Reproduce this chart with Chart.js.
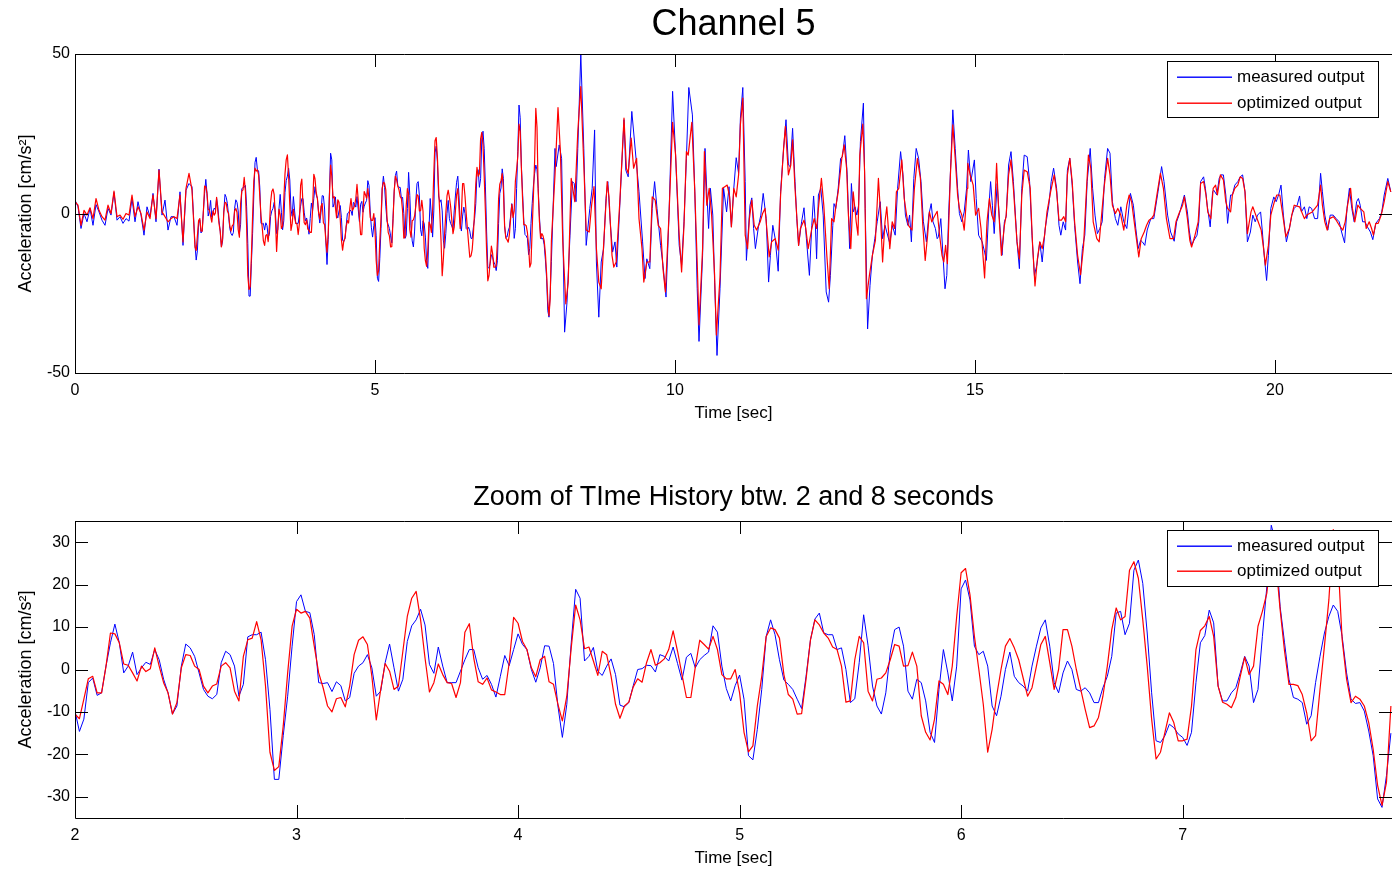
<!DOCTYPE html>
<html>
<head>
<meta charset="utf-8">
<title>Channel 5</title>
<script src="https://cdn.jsdelivr.net/npm/chart.js@4.4.1/dist/chart.umd.min.js"></script>
<style>
  html, body { margin: 0; padding: 0; background: #fff; }
  #wrap { position: relative; width: 1392px; height: 872px; overflow: hidden; }
  canvas { position: absolute; left: 0; }
  #full { top: 0; }
  #zoom { top: 440px; }
</style>
</head>
<body>
<div id="wrap">
  <canvas id="full" width="1392" height="430"></canvas>
  <canvas id="zoom" width="1392" height="432"></canvas>
</div>
<script>
// tick labels
const fullXTicks = [0, 5, 10, 15, 20];
const fullYTicks = [-50, 0, 50];
const zoomXTicks = [2, 3, 4, 5, 6, 7];
const zoomYTicks = [-30, -20, -10, 0, 10, 20, 30];

const seriesNames = ['measured output', 'optimized output'];
const seriesColors = ['#0000ff', '#ff0000'];

// 0 - 1.95 s, one value every 0.05 s
const earlyStep = 0.05;
const earlyMeasured = [
  4.2, 2.1, -4.7, 0.0, -2.6, 1.6, -3.7, 2.8, 0.5, -2.1,
  -3.7, 1.6, -0.5, 6.6, -2.1, -1.0, -3.1, -1.6, -2.4, 4.7,
  -2.6, 3.7, -0.5, -6.8, 2.1, -1.0, 6.3, -2.6, 13.9, -0.5,
  4.2, -5.2, -1.0, -1.0, -3.7, 6.8, -10.0, 7.3, 9.4, 8.4
];
const earlyOptimized = [
  3.7, 2.6, -3.7, 1.0, -0.5, 1.8, -1.6, 4.7, 1.0, -1.0,
  -2.1, 2.6, 0.0, 7.0, -1.0, -0.5, -1.8, 0.0, -0.5, 5.8,
  -1.0, 2.1, 0.0, -5.2, 0.5, -1.6, 5.8, -1.6, 13.6, 0.5,
  -1.0, -2.6, -1.6, -1.0, -1.6, 5.8, -8.9, 7.9, 12.6, 7.3
];

// 2.00 - 7.94 s, one value every 0.02 s
const zoomStart = 2;
const zoomStep = 0.02;
const zoomMeasured = [
  // 2 s
  -9.8, -14.6, -11.7, -3.1, -2.0, -6.1, -5.5, 0.8, 6.3, 10.7,
  6.3, -0.8, 0.8, 4.1, -1.2, 0.4, 1.7, 1.2, 4.7, 2.3,
  -2.3, -5.5, -10.5, -8.6, 0.8, 6.0, 5.1, 3.1, -0.8, -4.7,
  -6.3, -6.9, -5.9, 1.6, 4.3, 3.5, 0.8, -6.3, -3.5, 7.7,
  8.2, 8.2, 8.8, 2.3, -9.4, -25.9, -25.9, -15.6, -6.3, 5.5,
  // 3 s
  16.0, 17.6, 13.7, 13.4, 8.2, -3.1, -3.3, -3.1, -5.2, -2.9,
  -3.8, -7.4, -6.6, -0.9, 0.8, 1.6, 3.5, 0.4, -6.3, -5.1,
  1.6, 6.0, 0.4, -5.1, -2.3, 6.6, 10.3, 11.7, 14.2, 10.5,
  1.2, -0.9, 5.3, 0.8, -3.1, -3.1, -3.1, -0.4, 2.3, 4.7,
  4.7, 0.4, -2.3, -1.4, -3.5, -6.5, -1.6, 3.3, 0.9, 4.7,
  // 4 s
  8.4, 5.9, 4.7, 0.0, -3.0, 0.4, 5.6, 5.5, 1.4, -8.6,
  -16.0, -8.2, 6.3, 18.9, 16.8, 2.0, 3.1, 5.2, -0.4, -1.4,
  0.8, 2.5, -1.2, -8.4, -8.8, -7.8, -3.8, 0.0, 0.2, 1.0,
  0.9, -0.6, 3.5, 3.1, 2.0, 5.3, 1.4, -2.5, 2.9, 3.8,
  0.4, 2.3, 3.3, 4.1, 10.3, 8.8, 0.8, -4.5, -7.4, -3.8,
  // 5 s
  -1.3, -7.0, -20.3, -21.3, -14.1, -4.7, 7.8, 11.7, 8.2, 2.3,
  -2.5, -3.5, -4.7, -7.0, -9.2, -1.6, 7.0, 11.9, 13.3, 8.6,
  8.2, 8.2, 4.7, 5.1, 0.0, -7.8, -6.9, 1.6, 12.9, 5.6,
  -3.9, -8.6, -10.5, -5.5, 3.9, 9.4, 10.0, 5.5, -5.1, -7.0,
  -2.3, -3.1, -7.4, -14.8, -17.2, -4.7, 4.7, -0.8, -7.4, 0.8,
  // 6 s
  19.0, 21.1, 16.4, 5.5, 3.5, 4.3, 0.8, -8.6, -10.9, -6.3,
  0.0, 4.1, -1.6, -3.1, -3.9, -5.1, 0.8, 5.5, 9.8, 11.7,
  5.5, -3.1, -5.5, -0.8, 2.0, 0.0, -4.7, -5.1, -4.3, -5.5,
  -7.8, -7.8, -4.3, -1.6, 3.1, 13.3, 13.7, 8.2, 10.9, 23.4,
  25.8, 20.3, 8.6, -5.5, -16.8, -17.2, -15.6, -12.9, -13.7, -15.2,
  // 7 s
  -16.0, -17.9, -14.8, -3.1, 6.3, 8.0, 14.0, 11.0, -3.9, -7.4,
  -7.4, -5.5, -4.3, -0.8, 3.1, 0.8, -7.8, -4.7, 7.8, 19.5,
  34.0, 30.0, 14.8, 6.3, -2.3, -6.6, -7.0, -7.8, -12.9, -10.9,
  -3.1, 3.1, 8.6, 12.5, 15.2, 13.7, 7.8, -0.8, -7.0, -8.0,
  -7.8, -9.8, -14.5, -20.3, -30.5, -32.5, -25.0, -15.0
];
const zoomOptimized = [
  // 2 s
  -10.5, -11.6, -7.0, -2.2, -1.6, -5.5, -5.5, 0.8, 8.6, 8.4,
  6.3, 1.3, 1.0, -0.8, -2.7, 0.8, -0.5, 0.2, 5.1, 0.8,
  -3.1, -5.5, -10.5, -7.8, 0.4, 3.5, 3.3, 0.8, 0.0, -3.9,
  -5.5, -3.9, -3.4, 0.8, 1.6, 0.4, -5.1, -7.4, 3.1, 7.0,
  7.4, 11.3, 7.0, -3.9, -19.5, -23.8, -22.9, -13.3, -0.8, 10.2,
  // 3 s
  14.2, 13.3, 13.7, 12.1, 5.5, -0.8, -4.3, -8.6, -10.0, -6.9,
  -6.6, -8.8, -3.9, 3.5, 6.9, 7.7, 5.9, -1.6, -11.9, -4.7,
  1.4, -0.4, -4.7, -3.9, 4.3, 12.5, 16.8, 18.4, 11.7, 2.7,
  -5.3, -3.1, 1.3, -1.2, -3.1, -3.3, -6.6, -3.1, 8.8, 10.8,
  2.7, -2.9, -3.5, -2.0, -4.8, -5.3, -5.9, -5.9, 1.6, 12.3,
  // 4 s
  10.9, 6.6, 4.7, 0.4, -1.7, 2.3, 3.1, -2.9, -3.5, -8.2,
  -12.1, -6.3, 5.1, 15.2, 11.7, 4.9, 5.3, 2.0, -1.4, 4.3,
  3.5, -1.6, -8.2, -11.5, -8.6, -7.7, -4.1, -2.2, -3.0, 1.6,
  4.7, 1.0, 1.6, 2.5, 4.7, 9.1, 4.3, -1.2, -6.6, -6.6,
  0.5, 6.9, 5.9, 4.8, 7.8, 4.7, -1.2, -2.2, -2.2, 0.0,
  // 5 s
  -5.5, -14.8, -19.4, -18.0, -8.6, -1.6, 7.8, 9.8, 9.4, 7.4,
  -1.2, -5.9, -7.0, -10.5, -10.4, -2.3, 7.0, 11.7, 10.5, 8.6,
  7.4, 5.3, 4.7, 0.8, -7.7, -7.4, 2.3, 7.8, 6.3, -5.1,
  -7.4, -2.3, -2.0, -0.8, 2.3, 5.9, 5.5, 0.8, 0.9, 4.1,
  0.8, -10.9, -14.8, -16.6, -11.7, -2.7, -3.5, -5.9, 0.8, 12.5,
  // 6 s
  22.8, 23.8, 17.6, 7.8, 0.0, -8.2, -19.5, -14.1, -6.3, 0.0,
  5.5, 7.3, 5.1, 2.3, -2.0, -6.3, -4.3, 0.8, 5.9, 7.8,
  1.6, -4.7, 0.0, 9.4, 9.4, 5.5, 0.0, -4.7, -9.4, -13.7,
  -13.3, -11.3, -6.3, 0.8, 9.4, 14.5, 11.7, 12.5, 23.4, 25.4,
  21.5, 11.7, 0.8, -11.7, -21.1, -19.5, -14.8, -10.2, -12.5, -16.8,
  // 7 s
  -16.8, -16.4, -8.6, 4.7, 9.2, 10.3, 12.5, 7.8, -3.9, -7.7,
  -8.2, -9.0, -6.6, -1.6, 2.9, -1.2, 0.8, 10.2, 13.7, 18.0,
  28.0, 25.8, 14.1, 4.3, -3.5, -3.5, -3.8, -5.9, -10.2, -16.8,
  -15.6, -4.7, 5.5, 16.4, 33.0, 27.0, 7.0, -2.3, -7.8, -6.3,
  -7.0, -8.6, -12.5, -18.8, -27.3, -32.0, -26.6, -8.6
];

// 8 - 22 s, [time, value] at the turning points
const lateMeasured = [
  [8.00,20.4],[8.02,14.7],[8.07,21.5],[8.11,17.3],[8.16,-37.2],[8.20,-27.8],[8.25,-6.8],[8.29,10.0],[8.32,9.4],[8.35,3.7],
  [8.38,20.4],[8.43,50.0],[8.48,20.4],[8.52,-10.0],[8.58,1.6],[8.62,7.9],[8.66,26.2],[8.69,-15.2],[8.73,-32.5],[8.77,-15.2],
  [8.81,-11.0],[8.85,4.7],[8.88,10.0],[8.92,-2.6],[8.96,-12.1],[9.00,-8.9],[9.03,-16.8],[9.08,2.6],[9.15,29.4],[9.18,13.6],
  [9.22,11.5],[9.28,32.0],[9.35,17.3],[9.40,6.8],[9.46,-8.9],[9.50,-20.4],[9.53,-14.2],[9.58,-17.3],[9.62,1.6],[9.66,10.0],
  [9.70,1.6],[9.76,-10.0],[9.80,-16.2],[9.85,-26.2],[9.90,-0.5],[9.96,38.3],[10.01,18.3],[10.07,-10.0],[10.11,-16.2],[10.15,-2.6],
  [10.19,17.3],[10.23,39.5],[10.29,30.9],[10.33,6.8],[10.37,-23.6],[10.40,-40.1],[10.46,-13.1],[10.50,20.4],[10.53,6.8],[10.56,-4.7],
  [10.59,7.9],[10.63,-0.5],[10.66,-21.5],[10.70,-44.5],[10.75,-23.6],
  [10.81,7.9],[10.86,0.5],[10.90,8.4],[10.94,-4.2],[10.98,7.9],[11.02,17.5],[11.06,12.6],[11.09,29.9],[11.13,39.5],[11.17,10.0],
  [11.19,-14.7],[11.25,2.6],[11.28,4.9],[11.31,-4.7],[11.34,-11.0],[11.39,-4.2],[11.43,-0.5],[11.47,6.3],[11.52,-1.6],[11.56,-21.5],
  [11.59,-13.1],[11.63,-3.7],[11.67,-7.9],[11.72,-18.1],[11.76,6.8],[11.81,20.4],[11.85,29.4],[11.89,15.2],[11.92,14.7],[11.96,26.7],
  [12.00,10.0],[12.03,-1.6],[12.06,-10.0],[12.11,-2.6],[12.15,1.8],[12.19,-7.9],[12.24,-19.4],[12.28,-3.7],[12.31,5.5],[12.34,-3.7],
  [12.36,-14.2],[12.39,5.8],[12.43,7.9],[12.47,-0.5],[12.52,-24.6],[12.56,-27.8],[12.59,-19.4],[12.63,-3.7],[12.65,3.1],[12.68,1.6],
  [12.72,7.9],[12.76,17.3],[12.79,17.8],[12.83,24.4],[12.87,12.1],[12.91,-11.0],[12.94,9.4],[12.97,0.5],[13.00,2.1],[13.03,-0.5],
  [13.06,2.6],[13.09,22.5],[13.14,34.6],[13.17,1.6],[13.21,-36.2],[13.25,-22.5],[13.29,-13.1],[13.33,-7.9],[13.37,-2.6],[13.42,3.7],
  [13.46,-7.9],[13.50,-3.7],
  [13.58,-9.4],[13.62,-3.7],[13.67,-6.8],[13.71,7.9],[13.76,19.4],[13.80,12.1],[13.84,-0.5],[13.88,-3.7],[13.91,-0.5],[13.94,-8.9],
  [13.98,11.0],[14.02,20.4],[14.06,17.3],[14.10,10.0],[14.14,-2.6],[14.19,-8.9],[14.23,-0.5],[14.27,3.1],[14.30,-2.6],[14.34,-4.7],
  [14.37,-7.9],[14.39,-7.3],[14.43,-1.6],[14.47,-14.2],[14.50,-23.6],[14.53,-19.4],[14.56,-0.5],[14.60,17.3],[14.63,32.5],[14.67,20.4],
  [14.71,7.9],[14.74,0.0],[14.78,-2.6],[14.82,0.5],[14.86,7.9],[14.89,19.9],[14.93,10.0],[14.99,16.8],[15.02,4.7],[15.06,-6.8],
  [15.12,-8.9],[15.16,-12.1],[15.19,-14.7],[15.23,1.6],[15.26,10.0],[15.29,2.6],[15.32,-6.3],[15.37,9.4],[15.41,-2.6],[15.45,-13.1],
  [15.49,-2.6],[15.52,-1.0],[15.56,15.2],[15.60,19.4],[15.64,10.0],[15.70,-8.9],[15.74,-17.3],[15.78,7.9],[15.82,18.3],[15.87,17.8],
  [15.91,10.0],[15.95,-6.8],[15.99,-19.4],[16.03,-16.2],[16.08,-8.9],[16.12,-15.2],[16.17,-4.7],[16.23,2.6],[16.27,10.0],[16.31,14.2],
  [16.36,7.9],[16.40,-3.7],[16.43,-6.8],[16.47,-2.6],[16.51,-5.2],[16.54,13.6],[16.58,17.3],[16.62,8.9],[16.66,-3.7],[16.71,-15.2],
  [16.75,-22.0],[16.79,-11.0],[16.83,-6.8],[16.87,10.0],[16.92,20.4],[16.96,7.9],[17.00,-0.5],[17.04,-6.3],[17.08,-4.7],[17.12,-2.6],
  [17.16,11.0],[17.21,20.4],[17.25,18.9],[17.29,3.7],[17.34,-1.6],[17.38,-3.7],[17.43,2.1],[17.48,-2.6],[17.53,-4.7],[17.59,6.3],
  [17.64,2.6],[17.68,-4.7],[17.72,-11.0],[17.76,-8.4],[17.79,-8.9],[17.83,-10.0],[17.87,-5.2],[17.93,-1.6],[17.98,-1.6],[18.05,6.8],
  [18.11,14.7],[18.15,10.0],[18.21,-0.5],[18.26,-5.8],[18.32,-8.7],[18.36,-2.6],[18.40,-0.5],[18.46,3.7],[18.49,5.8],[18.54,0.5],
  [18.57,-5.2],[18.61,-10.0],[18.65,-8.4],[18.70,-6.8],[18.73,-2.6],[18.76,10.0],[18.81,11.5],[18.84,7.9],[18.87,2.6],[18.92,-4.2],
  [18.96,6.8],[18.98,7.3],[19.03,5.8],[19.07,11.0],
  [19.10,12.1],[19.14,12.1],[19.18,5.8],[19.21,-3.1],[19.26,5.8],[19.29,5.8],[19.33,8.9],[19.38,10.0],[19.42,11.5],[19.46,12.1],
  [19.50,6.8],[19.54,-8.9],[19.59,-5.8],[19.63,-0.5],[19.67,-2.6],[19.71,-0.5],[19.76,0.5],[19.79,-5.8],[19.82,-13.1],[19.86,-21.0],
  [19.89,-13.1],[19.93,1.6],[19.98,5.2],[20.02,3.7],[20.06,5.8],[20.10,8.9],[20.14,-0.5],[20.19,-8.9],[20.24,-4.7],[20.28,-0.5],
  [20.32,1.6],[20.37,2.6],[20.41,5.5],[20.44,0.5],[20.49,2.1],[20.53,-1.6],[20.57,2.1],[20.61,1.6],[20.66,-1.6],[20.71,-1.6],
  [20.76,12.6],[20.79,6.8],[20.83,-0.5],[20.88,-5.2],[20.92,-0.5],[20.97,-0.5],[21.02,-1.6],[21.07,-2.6],[21.11,-5.8],[21.16,-9.2],
  [21.20,1.6],[21.24,7.9],[21.28,1.6],[21.32,-2.6],[21.36,3.7],[21.39,4.7],[21.42,2.6],[21.46,-2.6],[21.50,-2.6],[21.54,-4.2],
  [21.59,-5.8],[21.63,-8.2],[21.68,-3.1],[21.74,-1.6],[21.78,0.5],[21.82,5.8],[21.88,11.0],[21.93,6.8]
];
const lateOptimized = [
  [8.00,12.1],[8.05,33.2],[8.09,19.4],[8.13,-8.9],[8.18,-28.3],[8.22,-21.5],[8.27,11.0],[8.33,3.7],[8.38,25.7],[8.43,39.8],
  [8.48,15.2],[8.52,-5.2],[8.57,-5.8],[8.61,2.6],[8.65,8.4],[8.69,-11.0],[8.73,-21.5],[8.77,-23.6],[8.81,-10.0],[8.87,10.0],
  [8.90,5.2],[8.95,-13.1],[8.98,-16.8],[9.02,-15.2],[9.08,3.7],[9.15,29.9],[9.19,14.2],[9.22,12.6],[9.27,23.6],[9.31,14.2],
  [9.36,17.3],[9.40,-1.6],[9.45,-11.0],[9.48,-21.5],[9.53,-15.2],[9.58,-15.2],[9.62,5.2],[9.67,4.2],[9.72,-3.7],[9.76,-4.7],
  [9.80,-17.3],[9.84,-24.6],[9.90,-0.5],[9.96,28.6],[10.01,18.3],[10.07,-6.8],[10.11,-18.3],[10.15,-3.7],[10.19,19.4],[10.22,18.3],
  [10.28,28.6],[10.33,6.8],[10.37,-15.2],[10.40,-34.9],[10.46,-11.0],[10.49,19.4],[10.53,2.6],[10.57,7.9],[10.61,-0.5],[10.66,-19.4],
  [10.69,-38.1],[10.75,-20.0],
  [10.79,7.9],[10.83,8.4],[10.87,8.9],[10.91,5.2],[10.94,-4.2],[10.98,7.9],[11.02,5.2],[11.06,12.1],[11.09,27.8],[11.13,36.2],
  [11.17,-6.8],[11.21,-11.0],[11.24,-1.6],[11.28,4.2],[11.32,-3.7],[11.36,-5.2],[11.42,-2.6],[11.46,0.0],[11.50,1.6],[11.54,-6.8],
  [11.57,-13.6],[11.61,-8.9],[11.64,-8.4],[11.67,-7.9],[11.72,-11.5],[11.76,5.8],[11.81,20.4],[11.84,27.3],[11.89,12.1],[11.93,15.2],
  [11.96,23.1],[12.00,7.9],[12.06,-10.0],[12.09,-4.7],[12.15,-2.1],[12.18,-4.7],[12.22,-11.0],[12.28,-4.7],[12.32,-1.6],[12.36,-4.7],
  [12.39,1.6],[12.44,11.0],[12.48,2.6],[12.53,-13.1],[12.57,-23.6],[12.61,-1.6],[12.65,-2.6],[12.68,2.1],[12.72,6.8],[12.78,17.3],
  [12.82,21.5],[12.86,14.2],[12.89,-0.5],[12.93,-11.0],[12.97,6.8],[13.02,-2.6],[13.05,-6.8],[13.08,18.3],[13.13,28.0],[13.16,13.1],
  [13.19,-26.7],[13.24,-19.4],[13.29,-13.1],[13.34,-8.4],[13.39,11.0],[13.42,1.6],[13.46,-15.2],[13.50,-2.6],
  [13.53,2.1],[13.58,-11.0],[13.62,-2.6],[13.66,-4.7],[13.69,6.8],[13.73,7.9],[13.78,16.8],[13.82,4.7],[13.86,-0.5],[13.89,-3.7],
  [13.95,-5.2],[13.99,7.9],[14.04,17.3],[14.09,11.0],[14.13,-3.7],[14.17,-14.7],[14.21,-6.8],[14.24,0.5],[14.28,-2.6],[14.32,-1.0],
  [14.37,0.7],[14.41,-6.8],[14.45,-13.1],[14.48,-15.2],[14.51,-10.0],[14.54,-15.7],[14.59,12.1],[14.63,27.8],[14.67,17.3],[14.71,5.8],
  [14.74,1.6],[14.78,-0.5],[14.82,-5.2],[14.87,7.9],[14.88,15.7],[14.92,12.1],[14.97,8.9],[15.01,-0.5],[15.06,1.6],[15.10,-4.7],
  [15.16,-20.2],[15.20,-2.6],[15.24,4.7],[15.28,-0.5],[15.32,-2.6],[15.36,15.7],[15.39,2.6],[15.44,-13.1],[15.49,-3.7],[15.52,-0.5],
  [15.56,12.1],[15.60,16.8],[15.64,7.9],[15.70,-8.9],[15.74,-14.2],[15.78,5.8],[15.82,13.6],[15.87,13.1],[15.92,7.9],[15.96,-10.0],
  [16.00,-22.7],[16.04,-14.2],[16.08,-8.9],[16.12,-11.0],[16.16,-6.8],[16.20,0.5],[16.26,6.8],[16.32,12.1],
  [16.36,6.8],[16.40,-2.1],[16.44,-2.1],[16.48,-1.0],[16.51,-2.6],[16.54,12.1],[16.58,17.3],[16.62,10.0],[16.66,-2.6],[16.71,-13.1],
  [16.76,-19.2],[16.81,-10.0],[16.85,4.7],[16.89,18.3],[16.93,14.2],[16.97,-2.6],[17.03,-7.9],[17.07,-8.9],[17.11,-0.5],[17.15,7.9],
  [17.21,17.3],[17.25,12.1],[17.29,2.6],[17.34,0.0],[17.38,1.6],[17.43,-0.5],[17.48,-5.2],[17.53,2.6],[17.57,5.8],[17.61,3.7],
  [17.65,-2.1],[17.69,-7.9],[17.73,-13.6],[17.77,-7.9],[17.82,-5.8],[17.86,-3.7],[17.90,-2.1],[17.94,-1.6],[17.98,-0.5],[18.04,6.8],
  [18.09,12.6],[18.14,7.9],[18.19,-1.6],[18.25,-7.9],[18.31,-7.9],[18.35,-2.6],[18.40,0.0],[18.46,2.6],[18.49,5.2],[18.54,-1.6],
  [18.58,-8.4],[18.61,-10.5],[18.66,-7.3],[18.72,-2.6],[18.76,9.4],[18.81,10.0],[18.85,5.8],[18.88,0.5],[18.93,-1.6],[18.97,7.9],
  [19.01,8.9],[19.04,5.8],[19.09,12.1],
  [19.14,10.5],[19.18,3.7],[19.21,1.6],[19.26,0.5],[19.29,5.8],[19.33,7.9],[19.38,8.9],[19.42,11.5],[19.46,11.0],[19.50,6.8],
  [19.54,-6.3],[19.60,0.5],[19.63,2.1],[19.68,-0.5],[19.72,-2.6],[19.77,-5.2],[19.81,-11.0],[19.84,-16.2],[19.89,-10.0],[19.93,-0.5],
  [19.99,3.7],[20.03,5.8],[20.08,5.8],[20.13,-0.5],[20.18,-7.3],[20.24,-4.7],[20.28,-0.5],[20.32,2.6],[20.41,2.1],[20.49,-1.6],
  [20.53,-0.5],[20.62,0.5],[20.71,2.6],[20.76,8.9],[20.79,2.6],[20.83,-2.6],[20.87,-5.2],[20.91,-1.6],[20.97,-1.0],[21.02,-2.1],
  [21.07,-3.7],[21.13,-5.2],[21.17,-2.6],[21.21,2.6],[21.26,7.9],[21.29,1.6],[21.33,-2.6],[21.38,2.6],[21.42,1.6],[21.48,0.5],
  [21.52,-4.7],[21.57,-2.6],[21.61,-4.7],[21.64,-6.8],[21.68,-3.1],[21.72,-3.1],[21.77,-0.5],[21.82,3.7],[21.88,10.0],[21.93,6.8]
];

const gridPoints = (values, start, step) => values.map((v, i) => ({ x: start + i * step, y: v }));
const pairPoints = (pairs) => pairs.map(([t, v]) => ({ x: t, y: v }));

const fullMeasured = [
  ...gridPoints(earlyMeasured, 0, earlyStep),
  ...gridPoints(zoomMeasured, zoomStart, zoomStep),
  ...pairPoints(lateMeasured)
];
const fullOptimized = [
  ...gridPoints(earlyOptimized, 0, earlyStep),
  ...gridPoints(zoomOptimized, zoomStart, zoomStep),
  ...pairPoints(lateOptimized)
];

Chart.defaults.font.family = '"Liberation Sans", Arial, Helvetica, sans-serif';
Chart.defaults.color = '#000';

// box round the axes with inward tick marks, like MATLAB
const matlabBox = {
  id: 'matlabBox',
  afterDatasetsDraw(chart) {
    const { ctx, chartArea: a, scales } = chart;
    const len = 13;
    ctx.save();
    ctx.strokeStyle = '#000';
    ctx.lineWidth = 1;
    ctx.beginPath();
    ctx.rect(a.left + 0.5, a.top + 0.5, a.right - a.left, a.bottom - a.top);
    scales.x.ticks.forEach(t => {
      const px = Math.round(scales.x.getPixelForValue(t.value)) + 0.5;
      ctx.moveTo(px, a.bottom); ctx.lineTo(px, a.bottom - len);
      ctx.moveTo(px, a.top); ctx.lineTo(px, a.top + len);
    });
    scales.y.ticks.forEach(t => {
      const py = Math.round(scales.y.getPixelForValue(t.value)) + 0.5;
      ctx.moveTo(a.left, py); ctx.lineTo(a.left + len, py);
      ctx.moveTo(a.right, py); ctx.lineTo(a.right - len, py);
    });
    ctx.stroke();
    ctx.restore();
  }
};

// framed legend inside the top right corner
const boxLegend = {
  id: 'boxLegend',
  afterDraw(chart, args, opts) {
    const { ctx, chartArea: a } = chart;
    const x0 = Math.round(a.right - opts.right - opts.width);
    const y0 = Math.round(a.top + opts.top);
    ctx.save();
    ctx.fillStyle = '#ffffff';
    ctx.fillRect(x0, y0, opts.width, opts.height);
    ctx.strokeStyle = '#000000';
    ctx.lineWidth = 1;
    ctx.strokeRect(x0 + 0.5, y0 + 0.5, opts.width, opts.height);
    ctx.font = '17px "Liberation Sans", Arial, sans-serif';
    ctx.textBaseline = 'middle';
    ctx.textAlign = 'left';
    seriesNames.forEach((name, i) => {
      const cy = Math.round(y0 + 16 + i * opts.row);
      ctx.fillStyle = seriesColors[i];
      ctx.fillRect(x0 + 10, cy - 0.5, 55, 1.4);
      ctx.fillStyle = '#000000';
      ctx.fillText(name, x0 + 70, cy);
    });
    ctx.restore();
  }
};

function makeChart(id, cfg) {
  const line = { pointRadius: 0, tension: 0, fill: false, borderJoinStyle: 'round' };
  return new Chart(document.getElementById(id), {
    type: 'line',
    data: {
      datasets: [
        { ...line, label: seriesNames[0], data: cfg.measured, borderColor: seriesColors[0], borderWidth: 1, order: 1 },
        { ...line, label: seriesNames[1], data: cfg.optimized, borderColor: seriesColors[1], borderWidth: 1.2, order: 0 }
      ]
    },
    options: {
      responsive: false,
      maintainAspectRatio: false,
      devicePixelRatio: 1,
      animation: false,
      parsing: false,
      events: [],
      layout: { padding: 0 },
      plugins: {
        legend: { display: false },
        tooltip: { enabled: false },
        title: {
          display: true,
          text: cfg.title,
          fullSize: false,
          font: { size: cfg.titleSize, weight: 'normal' },
          padding: cfg.titlePadding
        },
        boxLegend: cfg.legend
      },
      scales: {
        x: {
          type: 'linear',
          min: cfg.xMin,
          max: cfg.xMax,
          afterBuildTicks: s => { s.ticks = cfg.xTicks.map(v => ({ value: v })); },
          afterFit: s => { s.height = cfg.xHeight; },
          grid: { display: false, drawTicks: false },
          border: { display: false },
          ticks: { font: { size: 16 }, padding: 8, maxRotation: 0 },
          title: { display: true, text: 'Time [sec]', font: { size: 17 }, padding: { top: 0, bottom: cfg.xTitlePad } }
        },
        y: {
          min: cfg.yMin,
          max: cfg.yMax,
          afterBuildTicks: s => { s.ticks = cfg.yTicks.map(v => ({ value: v })); },
          afterFit: s => { s.width = 75; },
          grid: { display: false, drawTicks: false },
          border: { display: false },
          ticks: { font: { size: 16 }, padding: 5 },
          title: { display: true, text: 'Acceleration [cm/s²]', font: { size: 18 }, padding: { top: 15, bottom: 0 } }
        }
      }
    },
    plugins: [matlabBox, boxLegend]
  });
}

makeChart('full', {
  title: 'Channel 5',
  titleSize: 36,
  titlePadding: { top: 3, bottom: 7.8 },
  measured: fullMeasured,
  optimized: fullOptimized,
  xMin: 0, xMax: 21.95, xTicks: fullXTicks, xHeight: 57, xTitlePad: 6,
  yMin: -50, yMax: 50, yTicks: fullYTicks,
  legend: { top: 7, right: 14, width: 211, height: 56, row: 26 }
});

makeChart('zoom', {
  title: 'Zoom of TIme History btw. 2 and 8 seconds',
  titleSize: 27,
  titlePadding: { top: 41.8, bottom: 6.8 },
  measured: gridPoints(zoomMeasured, zoomStart, zoomStep),
  optimized: gridPoints(zoomOptimized, zoomStart, zoomStep),
  xMin: 2, xMax: 7.945, xTicks: zoomXTicks, xHeight: 54, xTitlePad: 3,
  yMin: -35, yMax: 35, yTicks: zoomYTicks,
  legend: { top: 9, right: 14, width: 211, height: 56, row: 25 }
});
</script>
</body>
</html>
